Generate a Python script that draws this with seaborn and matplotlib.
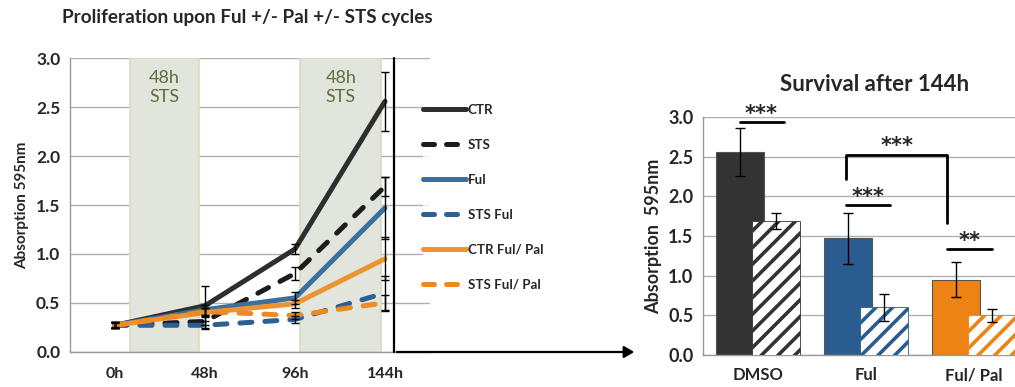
import numpy as np
import pandas as pd
import matplotlib
matplotlib.use("Agg")
import matplotlib.pyplot as plt
from matplotlib.lines import Line2D
from matplotlib.patches import Rectangle
import seaborn as sns

# ---------------- data ----------------
times = ["0h", "48h", "96h", "144h"]
series = ["CTR", "STS", "Ful", "STS Ful", "CTR Ful/ Pal", "STS Ful/ Pal"]
ctr = [0.27, 0.47, 1.05, 2.56]
ctr_err = [0.03, 0.20, 0.05, 0.30]
sts = [0.27, 0.31, 0.80, 1.69]
sts_err = [0.03, 0.07, 0.07, 0.10]
ful = [0.27, 0.43, 0.55, 1.47]
ful_err = [0.03, 0.05, 0.06, 0.32]
sts_ful = [0.27, 0.27, 0.33, 0.60]
sts_ful_err = [0.03, 0.04, 0.04, 0.17]
ctr_fp = [0.27, 0.40, 0.49, 0.95]
ctr_fp_err = [0.03, 0.05, 0.04, 0.22]
sts_fp = [0.27, 0.41, 0.37, 0.50]
sts_fp_err = [0.02, 0.04, 0.04, 0.08]

groups = ["DMSO", "Ful", "Ful/ Pal"]
surv_ctr = [2.56, 1.47, 0.95]
surv_ctr_err = [0.30, 0.32, 0.22]
surv_sts = [1.69, 0.60, 0.50]
surv_sts_err = [0.10, 0.17, 0.08]

sts_windows = [(0.17, 0.93), (2.06, 2.96)]

# ---------------- style ----------------
sns.set_theme(style="white")
plt.rcParams["font.family"] = ["Lato", "DejaVu Sans"]
plt.rcParams["hatch.linewidth"] = 2.6

line_colors = {"CTR": "#2e2e2e", "STS": "#1c1c1c", "Ful": "#3d6f9c",
               "STS Ful": "#2d5f93", "CTR Ful/ Pal": "#ef9330", "STS Ful/ Pal": "#ee8a22"}
dash_map = {"CTR": "", "STS": (2.4, 2.6), "Ful": "", "STS Ful": (2.4, 2.6),
            "CTR Ful/ Pal": "", "STS Ful/ Pal": (2.4, 2.6)}
bar_colors = {"DMSO": "#333333", "Ful": "#2b5c8f", "Ful/ Pal": "#ec8313"}

fig = plt.figure(figsize=(10.15, 3.87), dpi=100)

# ---------------- left: line chart ----------------
ax1 = fig.add_axes([70 / 1015, 1 - 351.7 / 387, 360 / 1015, 293.4 / 387])
vals = [ctr, sts, ful, sts_ful, ctr_fp, sts_fp]
errs = [ctr_err, sts_err, ful_err, sts_ful_err, ctr_fp_err, sts_fp_err]
rows = []
for s, v in zip(series, vals):
    for i, y in enumerate(v):
        rows.append({"t": i, "value": y, "series": s})
df = pd.DataFrame(rows)

ax1.set_xlim(-0.5, 3.5)
ax1.set_ylim(0, 3.0)
for (a, b) in sts_windows:
    ax1.add_patch(Rectangle((a, 0), b - a, 3.0, facecolor="#e2e5dc", edgecolor="#d3e0bd",
                            lw=1.2, zorder=1))
    ax1.text((a + b) / 2, 2.70, "48h\nSTS", ha="center", va="center", color="#5f6e40",
             fontsize=13, linespacing=1.25, zorder=2)

sns.lineplot(data=df, x="t", y="value", hue="series", style="series", hue_order=series,
             style_order=series, palette=line_colors, dashes=dash_map, linewidth=3.6,
             legend=False, ax=ax1, zorder=4)
for ln in ax1.lines:
    ln.set_solid_capstyle("round")
    ln.set_dash_capstyle("round")
    ln.set_solid_joinstyle("round")

for s, v, e in zip(series, vals, errs):
    ax1.errorbar(range(len(times)), v, yerr=e, fmt="none", ecolor="black",
                 elinewidth=1.0, capsize=3, capthick=1.0, zorder=5)

ax1.set_yticks(np.arange(0, 3.01, 0.5))
ax1.set_yticklabels([f"{t:.1f}" for t in np.arange(0, 3.01, 0.5)], fontweight="bold", fontsize=12.5)
ax1.set_xticks(range(len(times)))
ax1.set_xticklabels(times, fontweight="bold", fontsize=11.5)
ax1.set_xticks([0.5, 1.5, 2.5], minor=True)
ax1.tick_params(axis="x", which="major", length=0, pad=11)
ax1.tick_params(axis="x", which="minor", length=4, color="#999999", width=1)
ax1.tick_params(axis="y", length=4, color="#999999", width=1, pad=3)
ax1.yaxis.grid(True, color="#b0b0b0", lw=1, zorder=0)
ax1.set_axisbelow(True)
for sp in ["top", "right"]:
    ax1.spines[sp].set_visible(False)
for sp in ["left", "bottom"]:
    ax1.spines[sp].set_color("#999999")
    ax1.spines[sp].set_linewidth(1)
ax1.set_xlabel("")
ax1.set_ylabel("Absorption 595nm", fontweight="bold", fontsize=11, labelpad=5)

handles = []
for s in series:
    d = dash_map[s]
    h = Line2D([], [], color=line_colors[s], lw=3.6, solid_capstyle="round",
               dash_capstyle="round", linestyle="-" if d == "" else (0, (2.2, 2.4)))
    handles.append(h)
leg = fig.legend(handles=handles, labels=series, loc="upper left",
                 bbox_to_anchor=(423 / 1015, 1 - 104 / 387), frameon=True,
                 prop={"weight": "bold", "size": 9.6}, handlelength=3.2,
                 handletextpad=0.15, labelspacing=1.72, borderpad=0, borderaxespad=0)
leg.get_frame().set_facecolor("white")
leg.get_frame().set_edgecolor("none")

fig.text(62 / 1015, 1 - 18 / 387, "Proliferation upon Ful +/- Pal +/- STS cycles",
         fontweight="bold", fontsize=13.6, ha="left", va="center")

# vertical line + arrow to the bar chart
fig.add_artist(Line2D([394 / 1015, 394 / 1015], [1 - 58 / 387, 1 - 352 / 387],
                      transform=fig.transFigure, color="black", lw=1.6))
fig.add_artist(matplotlib.patches.FancyArrowPatch(
    (394 / 1015, 1 - 352 / 387), (637 / 1015, 1 - 352 / 387),
    transform=fig.transFigure, arrowstyle="-|>,head_length=6,head_width=3.5",
    color="black", lw=1.6, mutation_scale=1))

# ---------------- right: bar chart ----------------
ax2 = fig.add_axes([703 / 1015, 1 - 355 / 387, 312 / 1015, 238 / 387])
off = 0.165
bw = 0.44
pos = np.arange(len(groups))
dfa = pd.DataFrame({"x": pos - off, "y": surv_ctr, "g": groups})
dfb = pd.DataFrame({"x": pos + off, "y": surv_sts, "g": groups})

ax2.yaxis.grid(True, color="#b0b0b0", lw=1, zorder=0)
ax2.set_axisbelow(True)
sns.barplot(data=dfa, x="x", y="y", hue="g", hue_order=groups, palette=bar_colors,
            native_scale=True, dodge=False, width=bw, errorbar=None, legend=False,
            saturation=1, edgecolor="#555555", linewidth=0.8, ax=ax2, zorder=2)
n_first = len(ax2.patches)
sns.barplot(data=dfb, x="x", y="y", hue="g", hue_order=groups, palette=bar_colors,
            native_scale=True, dodge=False, width=bw, errorbar=None, legend=False,
            saturation=1, ax=ax2, zorder=3)
for p in ax2.patches[n_first:]:
    c = p.get_facecolor()
    p.set_facecolor("white")
    p.set_edgecolor(c)
    p.set_hatch("//")
    p.set_linewidth(0.6)

ax2.errorbar(pos - off, surv_ctr, yerr=surv_ctr_err, fmt="none", ecolor="black",
             elinewidth=1.0, capsize=3.5, capthick=1.0, zorder=6)
ax2.errorbar(pos + off, surv_sts, yerr=surv_sts_err, fmt="none", ecolor="black",
             elinewidth=1.0, capsize=3.5, capthick=1.0, zorder=6)

ax2.set_xlim(-0.51, 2.38)
ax2.set_ylim(0, 3.0)
ax2.set_yticks(np.arange(0, 3.01, 0.5))
ax2.set_yticklabels([f"{t:.1f}" for t in np.arange(0, 3.01, 0.5)], fontweight="bold", fontsize=13)
ax2.set_xticks(pos)
ax2.set_xticklabels(groups, fontweight="bold", fontsize=12)
ax2.set_xticks([0.5, 1.5], minor=True)
ax2.tick_params(axis="x", which="major", length=0, pad=9)
ax2.tick_params(axis="x", which="minor", length=4, color="#999999", width=1)
ax2.tick_params(axis="y", length=4, color="#999999", width=1, pad=3)
for sp in ["top", "right"]:
    ax2.spines[sp].set_visible(False)
for sp in ["left", "bottom"]:
    ax2.spines[sp].set_color("#999999")
    ax2.spines[sp].set_linewidth(1)
ax2.set_xlabel("")
ax2.set_ylabel("Absorption  595nm", fontweight="bold", fontsize=13, labelpad=4)
ax2.set_title("Survival after 144h", fontweight="bold", fontsize=16, pad=19, x=0.55)

# significance marks
kw = dict(color="black", lw=2.0, clip_on=False, zorder=7)
sk = dict(ha="center", va="center", fontsize=15, fontweight="bold",
          family=["DejaVu Sans"], clip_on=False)
ax2.plot([-0.17, 0.24], [2.94, 2.94], **kw)
ax2.text(0.03, 3.04, "***", **sk)
ax2.plot([0.815, 0.815, 1.75, 1.75], [2.22, 2.52, 2.52, 1.66], **kw)
ax2.text(1.29, 2.63, "***", **sk)
ax2.plot([0.815, 1.22], [1.89, 1.89], **kw)
ax2.text(1.02, 1.99, "***", **sk)
ax2.plot([1.75, 2.17], [1.34, 1.34], **kw)
ax2.text(1.96, 1.44, "**", **sk)

fig.savefig("out.png", dpi=100)
